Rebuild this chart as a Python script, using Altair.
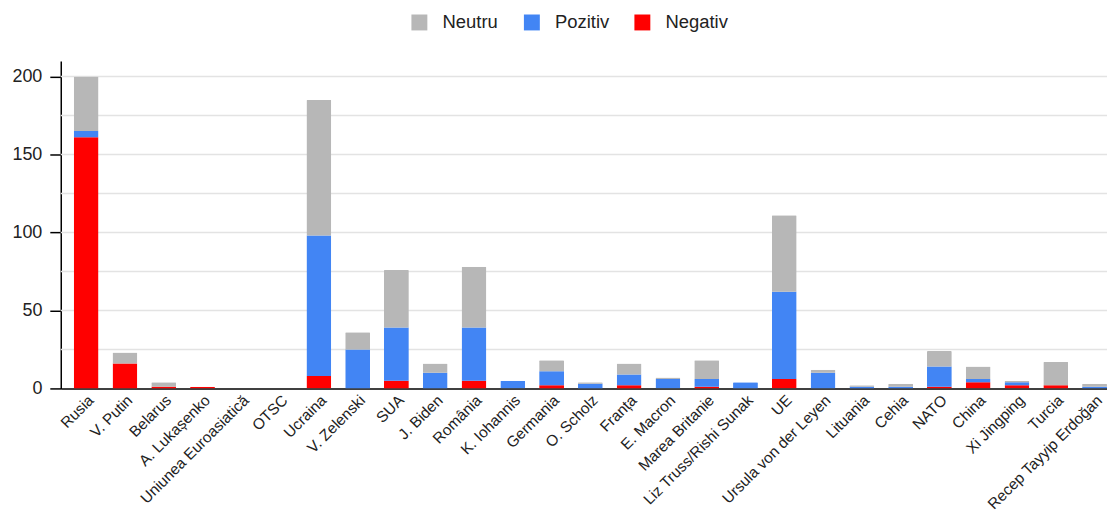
import altair as alt
import pandas as pd

categories = ["Rusia", "V. Putin", "Belarus", "A. Lukașenko", "Uniunea Euroasiatică", "OTSC",
              "Ucraina", "V. Zelenski", "SUA", "J. Biden", "România", "K. Iohannis", "Germania",
              "O. Scholz", "Franța", "E. Macron", "Marea Britanie", "Liz Truss/Rishi Sunak", "UE",
              "Ursula von der Leyen", "Lituania", "Cehia", "NATO", "China", "Xi Jingping", "Turcia",
              "Recep Tayyip Erdoğan"]
negativ = [161, 16, 1, 1, 0, 0, 8, 0, 5, 0, 5, 0, 2, 0, 2, 0, 1, 0, 6, 0, 0, 0, 1, 4, 2, 2, 0]
pozitiv = [4, 0, 0, 0, 0, 0, 90, 25, 34, 10, 34, 5, 9, 3, 7, 6, 5, 4, 56, 10, 1, 1, 13, 2, 2, 0, 1]
neutru = [35, 7, 3, 0, 0, 0, 87, 11, 37, 6, 39, 0, 7, 1, 7, 1, 12, 0, 49, 2, 1, 2, 10, 8, 1, 15, 2]

series = ["Neutru", "Pozitiv", "Negativ"]
colors = ["#b7b7b7", "#4285f4", "#ff0000"]
stack_order = {"Negativ": 0, "Pozitiv": 1, "Neutru": 2}
grid_values = [25, 50, 75, 100, 125, 150, 175, 200]
tick_values = [0, 50, 100, 150, 200]

rows = []
for i, c in enumerate(categories):
    for name, vals in (("Negativ", negativ), ("Pozitiv", pozitiv), ("Neutru", neutru)):
        rows.append({"cat": c, "serie": name, "val": vals[i], "ord": stack_order[name]})
df = pd.DataFrame(rows)
grid_df = pd.DataFrame({"g": grid_values})

FONT = "Liberation Sans"

yscale = alt.Scale(domain=[0, 210], nice=False)
yaxis = alt.Axis(values=tick_values, grid=False, labelFontSize=18, labelFont=FONT,
                 labelColor="#222222", domainColor="#000000", domainWidth=1.5,
                 tickColor="#000000", tickSize=11, tickWidth=1.5, labelPadding=8)

grid = alt.Chart(grid_df).mark_rule(color="#e3e3e3", strokeWidth=1.5).encode(
    y=alt.Y("g:Q", scale=yscale, axis=yaxis, title=None)
)

bars = alt.Chart(df).mark_bar(width=25, cornerRadiusTopLeft=1, cornerRadiusTopRight=1).encode(
    x=alt.X("cat:N", sort=categories, title=None,
            scale=alt.Scale(paddingInner=0.35, paddingOuter=0.33, range=[0, 1064]),
            axis=alt.Axis(labelAngle=-45, labelFontSize=15.4, labelFont=FONT, labelColor="#222222",
                          domainColor="#000000", domainWidth=1.5, ticks=False, labelPadding=4)),
    y=alt.Y("val:Q", stack="zero", scale=yscale, title=None, axis=yaxis),
    color=alt.Color("serie:N", scale=alt.Scale(domain=series, range=colors),
                    legend=alt.Legend(title=None, orient="none", direction="horizontal",
                                      legendX=351, legendY=-48, symbolType="square",
                                      symbolSize=256, symbolStrokeWidth=0, labelFontSize=18.5,
                                      labelFont=FONT, labelColor="#222222", columnPadding=24,
                                      labelOffset=14, symbolOpacity=1)),
    order=alt.Order("ord:Q"),
)

chart = alt.layer(grid, bars).properties(
    width=1051, height=329,
    autosize=alt.AutoSizeParams(type="none"),
    padding={"left": 53, "top": 52, "right": 0, "bottom": 128},
    background="white",
).configure_view(strokeWidth=0)

chart.save("out.html", embed_options={"renderer": "svg", "actions": False})
